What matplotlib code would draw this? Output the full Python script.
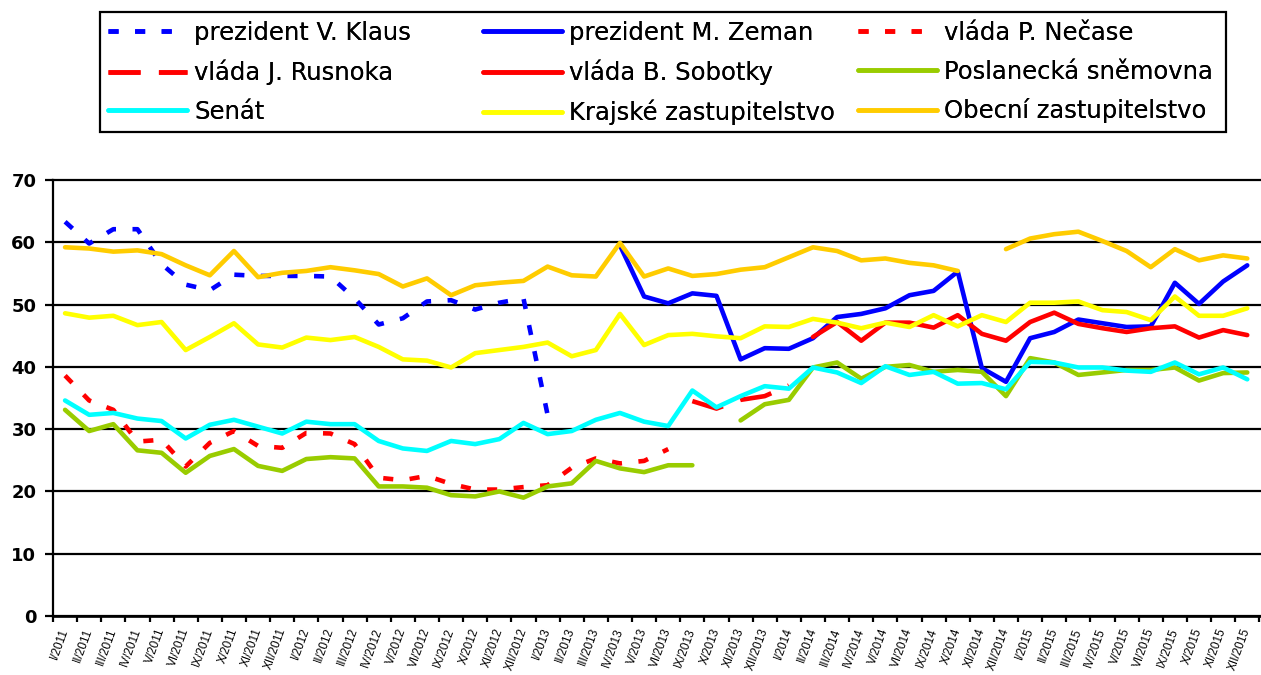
import numpy as np
import matplotlib
matplotlib.use("Agg")
import matplotlib.pyplot as plt
from matplotlib.patches import Rectangle

# categories: surveys run every month except July and August
months = ["I", "II", "III", "IV", "V", "VI", "IX", "X", "XI", "XII"]
years = [2011, 2012, 2013, 2014, 2015]
labels = [f"{m}/{y}" for y in years for m in months]

# each series: first category index + values
klaus_start = 0
klaus = [63.3, 59.8, 62.1, 62.1, 56.5, 53.2, 52.3, 54.8, 54.6, 54.6,
         54.6, 54.5, 51.0, 46.8, 47.8, 50.5, 50.7, 49.2, 50.3, 51.0, 32.3]

zeman_start = 23
zeman = [59.5, 51.3, 50.2, 51.8, 51.4, 41.2, 43.0, 42.9, 44.6, 48.0,
         48.5, 49.4, 51.5, 52.2, 55.3, 39.8, 37.6, 44.6, 45.6, 47.6,
         47.0, 46.4, 46.5, 53.5, 50.1, 53.7, 56.3]

necas_start = 0
necas = [38.6, 34.6, 33.1, 28.0, 28.3, 24.0, 27.8, 29.7, 27.3, 27.0,
         29.4, 29.3, 27.6, 22.2, 21.8, 22.5, 21.2, 20.3, 20.3, 20.7,
         21.0, 23.8, 25.3, 24.5, 24.9, 26.8]

rusnok_start = 26
rusnok = [34.5, 33.3, 34.7, 35.3, 37.0]

sobotka_start = 31
sobotka = [44.8, 47.2, 44.2, 47.1, 47.1, 46.3, 48.3, 45.3, 44.2, 47.2,
           48.7, 46.9, 46.2, 45.6, 46.2, 46.5, 44.7, 45.9, 45.1]

nan = np.nan
snemovna_start = 0
snemovna = [33.1, 29.7, 30.8, 26.6, 26.2, 23.0, 25.7, 26.8, 24.1, 23.3,
            25.2, 25.5, 25.3, 20.8, 20.8, 20.6, 19.4, 19.2, 20.0, 19.0,
            20.8, 21.3, 24.9, 23.7, 23.1, 24.2, 24.2, nan, 31.4, 34.0,
            34.7, 39.9, 40.7, 38.1, 40.0, 40.3, 39.2, 39.5, 39.2, 35.3,
            41.4, 40.7, 38.7, 39.1, 39.5, 39.5, 39.9, 37.8, 39.0, 39.1]

senat_start = 0
senat = [34.6, 32.3, 32.6, 31.7, 31.3, 28.5, 30.7, 31.5, 30.4, 29.3,
         31.2, 30.8, 30.8, 28.1, 26.9, 26.5, 28.1, 27.6, 28.4, 31.0,
         29.2, 29.7, 31.5, 32.6, 31.2, 30.5, 36.2, 33.5, 35.3, 36.9,
         36.5, 39.9, 39.1, 37.4, 40.1, 38.7, 39.2, 37.3, 37.4, 36.4,
         40.8, 40.7, 39.9, 39.9, 39.4, 39.2, 40.7, 38.8, 39.9, 38.0]

krajske_start = 0
krajske = [48.6, 47.9, 48.2, 46.7, 47.2, 42.7, 44.8, 47.0, 43.6, 43.1,
           44.7, 44.3, 44.8, 43.2, 41.2, 41.0, 39.9, 42.2, 42.7, 43.2,
           43.9, 41.7, 42.7, 48.5, 43.5, 45.1, 45.3, 44.9, 44.6, 46.5,
           46.4, 47.7, 47.1, 46.2, 47.1, 46.4, 48.3, 46.5, 48.3, 47.2,
           50.3, 50.3, 50.5, 49.1, 48.8, 47.5, 51.3, 48.2, 48.2, 49.4]

obecni_start = 0
obecni = [59.2, 59.0, 58.5, 58.7, 58.1, 56.3, 54.7, 58.6, 54.4, 55.1,
          55.4, 56.0, 55.5, 54.9, 52.9, 54.2, 51.5, 53.1, 53.5, 53.8,
          56.1, 54.7, 54.5, 59.9, 54.5, 55.8, 54.6, 54.9, 55.6, 56.0,
          57.6, 59.2, 58.6, 57.1, 57.4, 56.7, 56.3, 55.4, nan, 58.9,
          60.6, 61.3, 61.7, 60.2, 58.6, 56.0, 58.9, 57.1, 57.9, 57.4]

series = [
    ("prezident V. Klaus", klaus_start, klaus, "#0000FF", (0, (2.2, 3.6))),
    ("prezident M. Zeman", zeman_start, zeman, "#0000FF", "-"),
    ("vláda P. Nečase", necas_start, necas, "#FF0000", (0, (2.2, 3.6))),
    ("vláda J. Rusnoka", rusnok_start, rusnok, "#FF0000", (0, (7, 4))),
    ("vláda B. Sobotky", sobotka_start, sobotka, "#FF0000", "-"),
    ("Poslanecká sněmovna", snemovna_start, snemovna, "#99CC00", "-"),
    ("Senát", senat_start, senat, "#00FFFF", "-"),
    ("Krajské zastupitelstvo", krajske_start, krajske, "#FFFF00", "-"),
    ("Obecní zastupitelstvo", obecni_start, obecni, "#FFCC00", "-"),
]

W, H = 1261, 675
fig = plt.figure(figsize=(W / 100, H / 100), dpi=100)
ax = fig.add_axes([53 / W, 1 - 616 / H, (W - 53) / W, (616 - 180) / H])

handles = []
for name, start, vals, color, ls in series:
    x = np.arange(start, start + len(vals))
    line, = ax.plot(x, vals, color=color, lw=3.3, linestyle=ls, label=name,
                    solid_capstyle="round", solid_joinstyle="round",
                    dash_capstyle="butt")
    handles.append(line)

ax.set_ylim(0, 70)
ax.set_xlim(-0.5, 49.57)
ax.set_yticks(range(0, 71, 10))
ax.yaxis.grid(True, color="black", lw=1.6)
for gl in ax.get_ygridlines():
    gl.set_clip_on(False)
ax.set_axisbelow(True)

ax.spines["top"].set_visible(False)
ax.spines["right"].set_visible(False)
ax.spines["left"].set_linewidth(1.6)
ax.spines["bottom"].set_linewidth(1.9)

ax.tick_params(axis="y", direction="out", length=6, width=1.6, pad=6,
               labelsize=13)
for t in ax.get_yticklabels():
    t.set_fontweight("bold")

# tick marks between categories, labels on category centres
ax.set_xticks(np.arange(-0.5, 50, 1))
ax.set_xticklabels([])
ax.set_xticks(np.arange(len(labels)), minor=True)
ax.set_xticklabels(labels, minor=True, rotation=70, ha="right",
                   va="center", rotation_mode="anchor",
                   fontsize=8.5, family="Liberation Sans")
ax.tick_params(axis="x", which="major", direction="out", length=4, width=1.6)
ax.tick_params(axis="x", which="minor", length=0, pad=9)

# legend: three equal columns inside one frame, filled row by row
col_x = [108, 483, 858]
for c in range(3):
    hs = handles[c::3]
    leg = fig.legend(hs, [h.get_label() for h in hs], loc="upper left",
                     bbox_to_anchor=(col_x[c] / W, 1 - 21 / H),
                     frameon=False, fontsize=17.5, handlelength=3.25,
                     handletextpad=0.3, labelspacing=0.6,
                     borderpad=0, borderaxespad=0)
    fig.add_artist(leg)

fig.add_artist(Rectangle((100 / W, 1 - 132 / H), 1126 / W, 120 / H,
                         transform=fig.transFigure, fill=False,
                         ec="black", lw=1.6))

fig.savefig("out.png", dpi=100)
